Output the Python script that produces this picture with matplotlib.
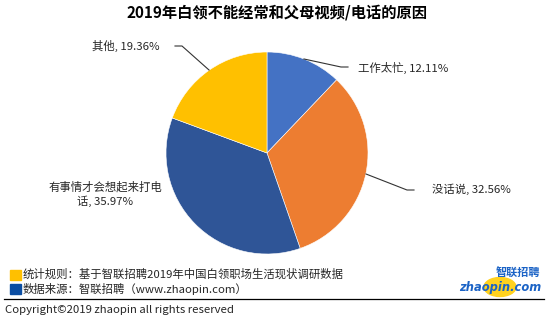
import matplotlib
matplotlib.use("Agg")
import matplotlib.pyplot as plt
from matplotlib.patches import Rectangle, Ellipse
from matplotlib.lines import Line2D

plt.rcParams['font.family'] = ['Noto Sans CJK SC', 'DejaVu Sans']

title = "2019年白领不能经常和父母视频/电话的原因"
categories = ["工作太忙", "没话说", "有事情才会想起来打电话", "其他"]
values = [12.11, 32.56, 35.97, 19.36]
colors = ["#4472C4", "#ED7D31", "#2F5597", "#FFC000"]
note_rule = "统计规则：基于智联招聘2019年中国白领职场生活现状调研数据"
note_source = "数据来源：智联招聘（www.zhaopin.com）"
copyright_text = "Copyright©2019 zhaopin all rights reserved"

W, H = 554, 323
fig = plt.figure(figsize=(W / 100, H / 100), dpi=100)

# pie axes: centre (267, 153) px from top-left, radius 101 px
cx, cy, r = 267, 153, 101
ax = fig.add_axes([(cx - r) / W, (H - cy - r) / H, 2 * r / W, 2 * r / H])
ax.pie(values, colors=colors, startangle=90, counterclock=False, radius=1,
       wedgeprops=dict(edgecolor="white", linewidth=0.4))
ax.set_xlim(-1, 1)
ax.set_ylim(-1, 1)
ax.set_aspect("equal")
ax.axis("off")

txt_color = "#262626"
fs = 8.2

def px(x, y):
    return (x - cx) / r, (cy - y) / r

def leader(points):
    xs, ys = zip(*[px(*p) for p in points])
    ax.add_line(Line2D(xs, ys, color="#333333", lw=0.8, clip_on=False))

labels = [f"{c}, {v:.2f}%" for c, v in zip(categories, values)]

# 工作太忙
leader([(304, 59), (341, 67), (348, 67)])
ax.text(*px(358, 68), labels[0], ha="left", va="center", fontsize=fs, color=txt_color)
# 没话说
leader([(366, 174), (407, 190), (414, 190)])
ax.text(*px(432, 189), labels[1], ha="left", va="center", fontsize=fs, color=txt_color)
# 其他
leader([(209, 70), (182, 46), (175, 46)])
ax.text(*px(160, 46), labels[3], ha="right", va="center", fontsize=fs, color=txt_color)
# 有事情才会想起来打电话
ax.text(*px(105, 194), "有事情才会想起来打电\n话, 35.97%", ha="center", va="center",
        fontsize=fs, color=txt_color, linespacing=1.25)

def fx(x):
    return x / W

def fy(y):
    return 1 - y / H

fig.text(fx(277), fy(13), title, ha="center", va="center", fontsize=11,
         fontweight="bold", color="#000000")

# footer notes
fig.add_artist(Rectangle((fx(10), fy(280)), 11 / W, 10 / H, color="#FFC000",
                         transform=fig.transFigure))
fig.text(fx(23), fy(274), note_rule, ha="left", va="center", fontsize=fs, color=txt_color)
fig.add_artist(Rectangle((fx(10), fy(294)), 11 / W, 10 / H, color="#0A4DA2",
                         transform=fig.transFigure))
fig.text(fx(23), fy(289), note_source, ha="left", va="center", fontsize=fs, color=txt_color)
fig.add_artist(Line2D([fx(4), fx(544)], [fy(299), fy(299)], color="#000000", lw=0.9,
                      transform=fig.transFigure))
fig.text(fx(5), fy(310), copyright_text, ha="left", va="center", fontsize=8.2, color=txt_color)

# logo
fig.add_artist(Ellipse((fx(500), fy(287)), 32 / W, 19 / H, color="#FFD21F",
                       transform=fig.transFigure))
fig.text(fx(518), fy(273), "智联招聘", ha="center", va="center", fontsize=8,
         fontweight="bold", style="italic", color="#1B63C6")
fig.text(fx(500), fy(287), "zhaopin.com", ha="center", va="center", fontsize=8.3,
         fontweight="bold", style="italic", color="#1B63C6", family="DejaVu Sans")

fig.savefig("out.png", dpi=100)
